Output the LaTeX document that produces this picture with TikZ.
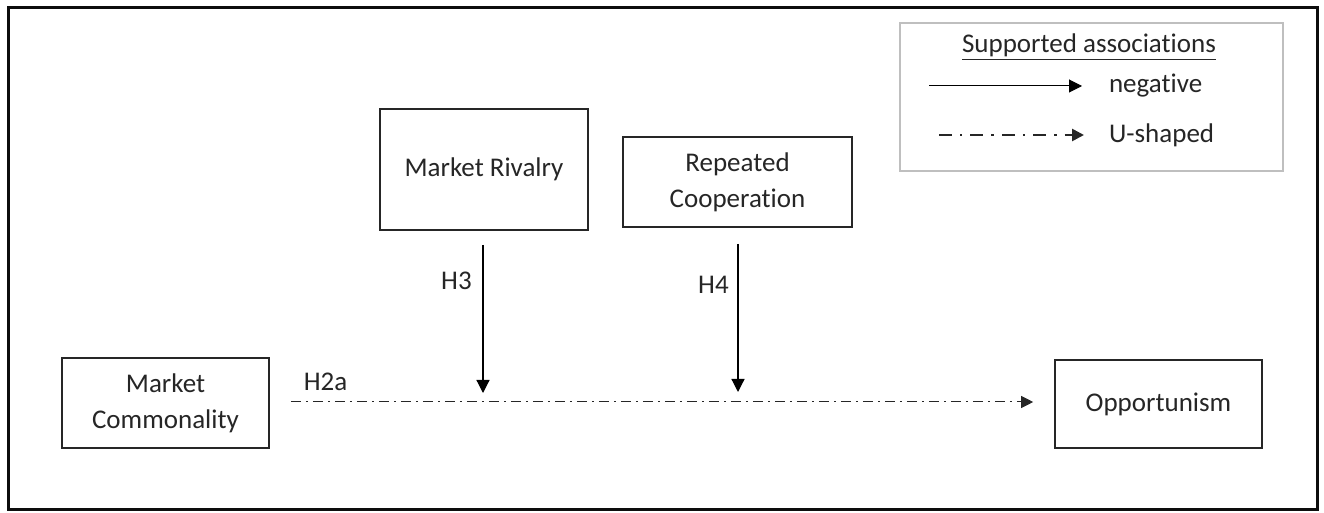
\documentclass[tikz,border=0pt]{standalone}
\usepackage{fontspec}
\setmainfont{Carlito}[Ligatures=CommonOff]
\usepackage{tikz}
\usepackage{xcolor}
\usetikzlibrary{arrows.meta,positioning,calc}
\definecolor{ink}{HTML}{262626}
\definecolor{frame}{HTML}{0D0D0D}
\definecolor{legendgray}{HTML}{BFBFBF}
\newcommand{\diagfont}{\fontsize{13.5pt}{18pt}\selectfont}
\tikzset{
  constructbox/.style={
    rectangle, draw=ink, thick, fill=white,
    font=\diagfont, text=ink, align=center,
    inner sep=4pt
  },
  hlabel/.style={
    font=\diagfont, text=ink
  },
  negarrow/.style={
    -{Triangle[length=6.5pt,width=6.5pt]}, line width=0.6pt, color=black
  },
  ushaped/.style={
    -{Triangle[length=6pt,width=6pt]}, line width=0.5pt, color=ink,
    dash pattern=on 5pt off 2.5pt on 1pt off 2.5pt
  },
  legendbox/.style={
    rectangle, draw=legendgray, line width=1pt,
    minimum width=191.5pt, minimum height=74pt
  },
}

\begin{document}
\begin{tikzpicture}[x=0.5pt, y=-0.5pt]
  \useasboundingbox (0,0) rectangle (1324,513);
  \draw[frame, line width=1.5pt] (8.5,7.5) rectangle (1317,509.5);

  \node[constructbox, minimum width=103.5pt, minimum height=45pt] at (165.5,403) (commonality) {Market\\Commonality};
  \node[constructbox, minimum width=104pt, minimum height=60.5pt] at (484,169.5) (rivalry) {Market Rivalry};
  \node[constructbox, minimum width=114.5pt, minimum height=45pt] at (737.5,182) (cooperation) {Repeated\\Cooperation};
  \node[constructbox, minimum width=103.5pt, minimum height=44pt] at (1158.5,404) (opportunism) {Opportunism};

  \coordinate (h3tip) at (483,393);
  \coordinate (h4tip) at (738,392);
  \draw[ushaped, shorten <=10.5pt, shorten >=10.5pt] (commonality.east |- 0,402) -- (opportunism.west |- 0,402) node[hlabel, pos=0.071, above=2pt] (h2a) {H2a};
  \draw[negarrow, shorten <=7pt] (rivalry.south -| h3tip) -- (h3tip) node[hlabel, pos=0.31, left=2pt] (h3) {H3};
  \draw[negarrow, shorten <=8pt] (cooperation.south -| h4tip) -- (h4tip) node[hlabel, pos=0.35, left=1pt] (h4) {H4};

  \node[legendbox] at (1091.5,97) (legend) {};
  \node[hlabel] at (1089,47) (legendtitle) {\underline{Supported associations}};
  \coordinate (negstart) at (929,86);
  \coordinate (negend) at (1082,86);
  \coordinate (ustart) at (939,135);
  \coordinate (uend) at (1084,135);
  \draw[negarrow, line width=0.5pt] (negstart) -- (negend);
  \draw[ushaped, line width=1.3pt, dash pattern=on 6.5pt off 4pt on 1.2pt off 4pt] (ustart) -- (uend);
  \node[hlabel, anchor=west] at ([xshift=10pt]negend) (neglabel) {negative};
  \node[hlabel, anchor=west] at ([xshift=9pt]uend) (ulabel) {U-shaped};
\end{tikzpicture}
\end{document}
